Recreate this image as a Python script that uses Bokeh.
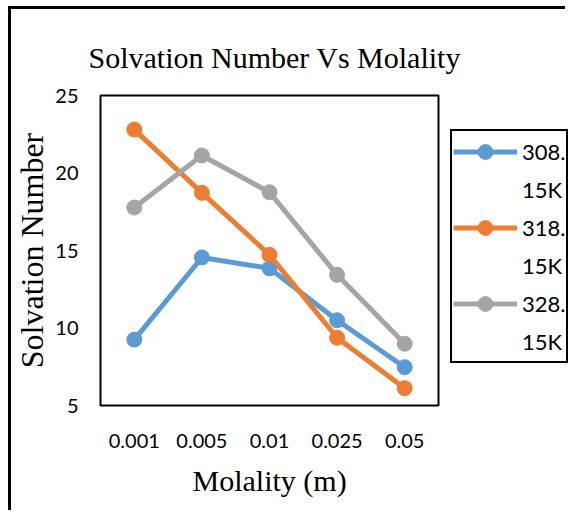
from bokeh.plotting import figure
from bokeh.models import Legend, LegendItem, Title, ColumnDataSource, Range1d, FixedTicker
from bokeh.embed import file_html
from bokeh.resources import INLINE

molality = ["0.001", "0.005", "0.01", "0.025", "0.05"]
t308 = [9.25, 14.55, 13.85, 10.5, 7.47]
t318 = [22.8, 18.72, 14.72, 9.37, 6.12]
t328 = [17.77, 21.13, 18.76, 13.43, 8.98]
series_names = ["308.", "318.", "328."]
series_suffix = "15K"
colors = ["#5B9BD5", "#ED7D31", "#A5A5A5"]
y_ticks = [5, 10, 15, 20, 25]

# layout (pixels inside the figure canvas)
W, H = 557, 504
BL, BT, BB = 87, 84, 106
cat_px = 67.6      # width of one category slot
y_px = 15.5        # pixels per unit on y
pad_px = 2         # frame extends a little beyond the plot box

n = len(molality)
x_pos = [i + 0.5 for i in range(n)]
x_start = -pad_px / cat_px
x_end = x_start + (W - BL) / cat_px
y_lo, y_hi = y_ticks[0], y_ticks[-1]

p = figure(width=W, height=H, output_backend="svg", toolbar_location=None,
           x_range=Range1d(x_start, x_end),
           y_range=Range1d(y_lo - pad_px / y_px, y_hi + pad_px / y_px),
           min_border_left=BL, min_border_top=BT, min_border_right=0, min_border_bottom=BB,
           margin=(6, 0, 0, 8),
           styles={"border-left": "3px solid black", "border-top": "3px solid black"})
p.title = Title(text="Solvation Number Vs Molality", align="left", offset=-10,
                text_font="Liberation Serif", text_font_size="30px",
                text_font_style="normal", text_color="#000000", standoff=39)
p.outline_line_color = None
p.xgrid.grid_line_color = None
p.ygrid.grid_line_color = None
p.background_fill_color = "white"
p.border_fill_color = "white"

# plot box
p.quad(left=0, right=n, bottom=y_lo, top=y_hi, fill_color=None,
       line_color="black", line_width=2)

for ax in (p.xaxis[0], p.yaxis[0]):
    ax.axis_line_color = None
    ax.major_tick_line_color = None
    ax.minor_tick_line_color = None
    ax.major_tick_out = 0
    ax.major_tick_in = 0
    ax.minor_tick_out = 0
    ax.minor_tick_in = 0
    ax.major_label_text_font = "Lato"
    ax.major_label_text_font_size = "20px"
    ax.major_label_text_color = "#000000"
    ax.axis_label_text_font = "Liberation Serif"
    ax.axis_label_text_font_size = "32px"
    ax.axis_label_text_font_style = "normal"
    ax.axis_label_text_color = "#000000"

p.yaxis.ticker = FixedTicker(ticks=y_ticks)
p.yaxis.major_label_standoff = 20
p.yaxis.axis_label = "Solvation Number"
p.yaxis.axis_label_standoff = 2
p.xaxis.ticker = FixedTicker(ticks=x_pos)
p.xaxis.major_label_overrides = {x: lab for x, lab in zip(x_pos, molality)}
p.xaxis.major_label_standoff = 26

p.add_layout(Title(text="Molality  (m)", align="left", offset=94,
                   text_font="Liberation Serif", text_font_size="30px",
                   text_font_style="normal", text_color="#000000", standoff=22), "below")

items = []
for name, vals, col in zip(series_names, [t308, t318, t328], colors):
    src = ColumnDataSource(dict(x=x_pos, y=vals))
    ln = p.line("x", "y", source=src, line_color=col, line_width=5)
    sc = p.scatter("x", "y", source=src, size=15, fill_color=col, line_color=col)
    items.append(LegendItem(label=name, renderers=[ln, sc]))
    blank = p.scatter(x=[], y=[], fill_alpha=0, line_alpha=0)
    items.append(LegendItem(label=series_suffix, renderers=[blank]))

legend = Legend(items=items, location=(352, 44), margin=0, padding=1, spacing=0,
                label_height=38, glyph_height=37, glyph_width=64, label_standoff=5,
                label_text_font="Lato", label_text_font_size="22px",
                label_text_color="#000000",
                border_line_color="black", border_line_width=2, border_line_alpha=1,
                background_fill_color="white", background_fill_alpha=1)
p.add_layout(legend)

open("out.html", "w").write(file_html(p, INLINE))
